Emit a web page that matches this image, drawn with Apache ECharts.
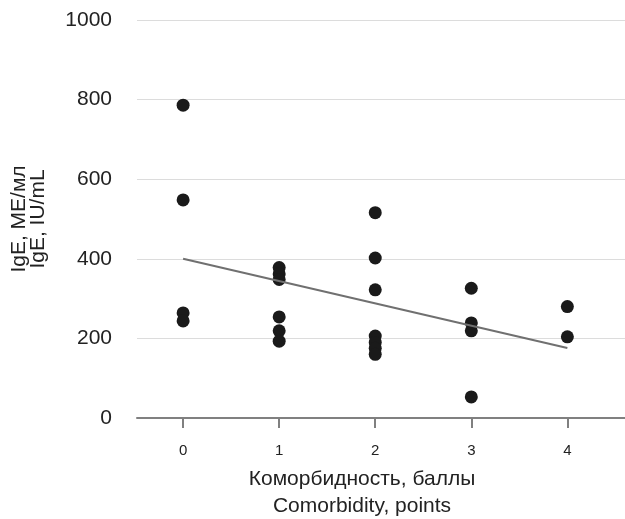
<!DOCTYPE html>
<html>
<head>
<meta charset="utf-8">
<script src="https://cdn.jsdelivr.net/npm/echarts@6/dist/echarts.min.js"></script>
<style>html,body{margin:0;padding:0;background:#fff}#c{width:625px;height:519px}</style>
</head>
<body>
<div id="c"></div>
<script>
const categories = [0, 1, 2, 3, 4];
const comorbidity = [0,0,0,0, 1,1,1,1,1,1, 2,2,2,2,2,2,2, 3,3,3,3, 4,4];
const ige = [786,548,264,244, 378,362,348,254,219,193, 516,402,322,206,190,175,160, 326,239,219,53, 280,204];
const trendX = [0, 4];
const trendY = [400, 176];
const yTicks = [0, 200, 400, 600, 800, 1000];

const FONT = '"Liberation Sans", Arial, sans-serif';
const chart = echarts.init(document.getElementById('c'));
chart.setOption({
  animation: false,
  grid: { left: 137, right: 0, top: 20, bottom: 101, outerBoundsMode: 'none', containLabel: false },
  xAxis: {
    type: 'value', min: -0.48, max: 4.6,
    name: 'Коморбидность, баллы\nComorbidity, points',
    nameLocation: 'middle', nameGap: 48,
    nameTextStyle: { fontFamily: FONT, fontSize: 21, color: '#222', lineHeight: 27, padding: [0, 38, 0, 0] },
    axisLine: { lineStyle: { color: '#808080', width: 2 } },
    axisTick: { show: true, length: 10, customValues: categories, lineStyle: { color: '#808080', width: 2 } },
    axisLabel: { customValues: categories, fontFamily: FONT, fontSize: 15, color: '#222', margin: 25 },
    splitLine: { show: false }
  },
  yAxis: {
    type: 'value', min: yTicks[0], max: yTicks[yTicks.length - 1], interval: 200,
    name: 'IgE, МЕ/мл\nIgE, IU/mL',
    nameLocation: 'middle', nameGap: 89,
    nameTextStyle: { fontFamily: FONT, fontSize: 21, color: '#222', lineHeight: 19 },
    axisLine: { show: false },
    axisTick: { show: false },
    axisLabel: { fontFamily: FONT, fontSize: 21, color: '#222', margin: 25, formatter: v => String(v) },
    splitLine: { lineStyle: { color: '#dcdcdc', width: 1 } }
  },
  series: [
    {
      type: 'scatter', symbolSize: 13,
      itemStyle: { color: '#1a1a1a', opacity: 1 },
      data: comorbidity.map((x, i) => [x, ige[i]]),
      z: 3
    },
    {
      type: 'line', symbol: 'none',
      lineStyle: { color: '#707070', width: 2 },
      data: trendX.map((x, i) => [x, trendY[i]]),
      z: 4
    }
  ]
});
</script>
</body>
</html>
